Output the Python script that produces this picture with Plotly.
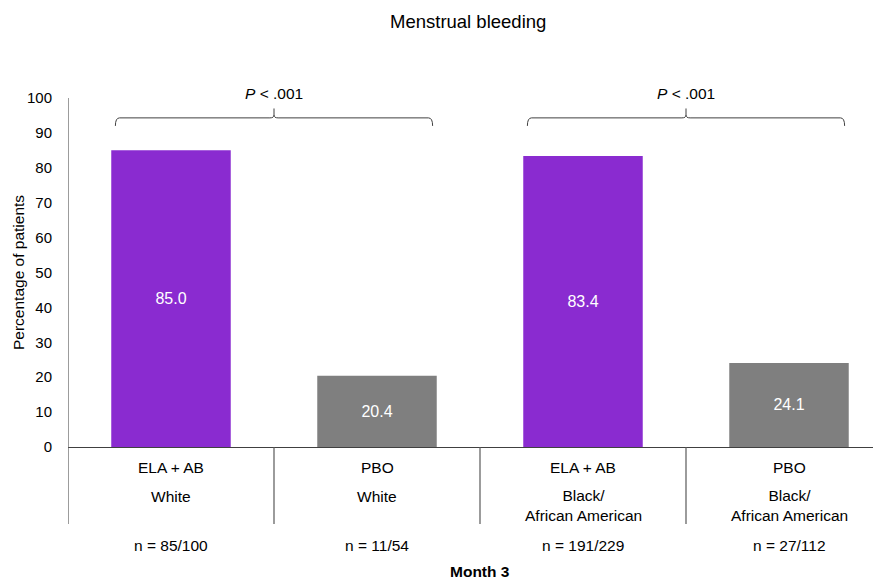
import plotly.graph_objects as go

treatments = ["ELA + AB", "PBO", "ELA + AB", "PBO"]
groups = ["White", "White", "Black/<br>African American", "Black/<br>African American"]
values = [85.0, 20.4, 83.4, 24.1]
n_labels = ["n = 85/100", "n = 11/54", "n = 191/229", "n = 27/112"]
colors = ["#8A2BD0", "#7F7F7F", "#8A2BD0", "#7F7F7F"]
y_ticks = list(range(0, 101, 10))
p_labels = ["<i>P</i> < .001", "<i>P</i> < .001"]

x = list(range(len(values)))
FONT = "Liberation Sans, Arial, sans-serif"

OFF = 8  # page body margin
W, H = 881, 580
L, T = 68 - OFF, 98 - OFF
B = H - (447 - OFF)
R = 0
plot_h = 447 - 98
plot_w = W - L - R

def py(pix):
    return (447 - pix) / plot_h

def px(pix):
    return (pix - OFF - L) / plot_w

fig = go.Figure()
fig.add_trace(go.Bar(
    x=x, y=values, width=0.58, marker=dict(color=colors, line=dict(width=0)),
    text=[f"{v:.1f}" for v in values], textposition="inside", insidetextanchor="middle",
    textfont=dict(color="white", size=16, family=FONT), hoverinfo="skip",
))

shapes = []
for xv in [-0.5, 0.5, 1.5, 2.5]:
    shapes.append(dict(type="line", xref="x", yref="paper", x0=xv, x1=xv, y0=0, y1=py(524),
                       line=dict(color="#595959", width=1.2)))

def bracket(xa, xb, ytop, yend, ytip):
    xm = (xa + xb) / 2
    dx = 0.02
    dy = 0.8
    path = (f"M {xa},{yend} Q {xa},{ytop} {xa+dx},{ytop} L {xm-dx},{ytop} "
            f"Q {xm},{ytop} {xm},{ytop+dy} L {xm},{ytip} "
            f"M {xm},{ytop+dy} Q {xm},{ytop} {xm+dx},{ytop} L {xb-dx},{ytop} "
            f"Q {xb},{ytop} {xb},{yend}")
    return dict(type="path", xref="x", yref="y", path=path, line=dict(color="#404040", width=1))
shapes.append(bracket(-0.27, 1.27, 94.3, 92.0, 97.0))
shapes.append(bracket(1.73, 3.27, 94.3, 92.0, 97.0))

TF = dict(size=15.5, family=FONT, color="#000")
annotations = []
for i, (t, g, n) in enumerate(zip(treatments, groups, n_labels)):
    annotations.append(dict(x=i, y=py(467), xref="x", yref="paper", text=t, showarrow=False,
                            font=TF, yanchor="middle"))
    gy = py(496) if "<br>" not in g else py(505)
    annotations.append(dict(x=i, y=gy, xref="x", yref="paper", text=g, showarrow=False,
                            font=TF, yanchor="middle"))
    annotations.append(dict(x=i, y=py(545), xref="x", yref="paper", text=n, showarrow=False,
                            font=TF, yanchor="middle"))
annotations.append(dict(x=1.5, y=py(571), xref="x", yref="paper", text="<b>Month 3</b>", showarrow=False,
                        font=TF, yanchor="middle"))
for xc, p in zip([0.5, 2.5], p_labels):
    annotations.append(dict(x=xc, y=py(93), xref="x", yref="paper", text=p, showarrow=False,
                            font=TF, yanchor="middle"))
annotations.append(dict(x=px(468), y=py(21), xref="paper", yref="paper",
                        text="Menstrual bleeding", showarrow=False,
                        font=dict(size=18.5, family=FONT, color="#000"), yanchor="middle"))
annotations.append(dict(x=px(18), y=py(273), xref="paper", yref="paper",
                        text="Percentage of patients", showarrow=False, textangle=-90,
                        font=TF, xanchor="center", yanchor="middle"))

fig.update_layout(
    width=W, height=H, margin=dict(l=L, r=R, t=T, b=B),
    plot_bgcolor="white", paper_bgcolor="white", showlegend=False,
    xaxis=dict(range=[-0.5, -0.5 + plot_w / 206], showticklabels=False, showgrid=False,
               zeroline=False, showline=False, ticks=""),
    yaxis=dict(range=[0, 100], tickvals=y_ticks, showgrid=False, zeroline=True,
               zerolinecolor="#404040", zerolinewidth=1.2, showline=False, ticks="",
               tickfont=dict(size=15, family=FONT, color="#000"), ticklabelstandoff=15),
    shapes=shapes, annotations=annotations,
)
fig.add_shape(type="line", xref="x", yref="paper", x0=-0.5, x1=-0.5, y0=0, y1=1,
              line=dict(color="#595959", width=1.2))
fig.write_html("out.html")
